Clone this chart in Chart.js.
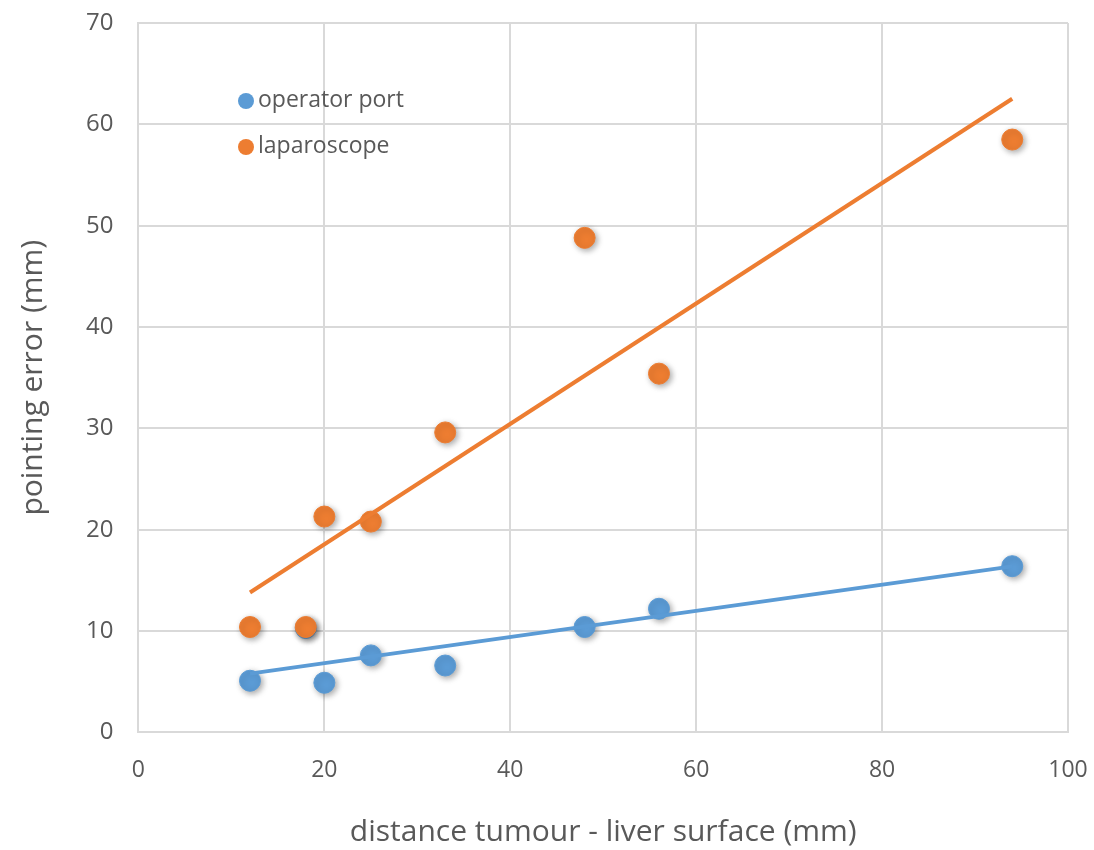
<!DOCTYPE html>
<html lang="en">
<head>
  <meta charset="UTF-8" />
  <title>Pointing error vs distance</title>
  <script src="https://cdn.jsdelivr.net/npm/chart.js"></script>
  <style>
    body { margin: 0; background: #fff; }
    #wrap { width: 1094px; height: 850px; position: relative; }
  </style>
</head>
<body>
  <div id="wrap"><canvas id="errChart"></canvas></div>
  <script>
  // distance tumour - liver surface (mm)
  const distances = [12, 18, 20, 25, 33, 48, 56, 94];
  // pointing error (mm)
  const operatorPort = [5.1, 10.3, 4.9, 7.6, 6.6, 10.4, 12.2, 16.4];
  const laparoscope = [10.4, 10.4, 21.3, 20.8, 29.6, 48.8, 35.4, 58.5];
  const seriesNames = ['operator port', 'laparoscope'];
  const blue = '#5B9BD5', orange = '#ED7D31';

  function toPoints(xs, ys) {
    return xs.map((x, i) => ({ x: x, y: ys[i] }));
  }

  // linear least-squares trendline, like Excel's
  function trend(xs, ys) {
    const n = xs.length;
    const mx = xs.reduce((a, b) => a + b, 0) / n;
    const my = ys.reduce((a, b) => a + b, 0) / n;
    let sxy = 0, sxx = 0;
    xs.forEach((x, i) => { sxy += (x - mx) * (ys[i] - my); sxx += (x - mx) * (x - mx); });
    const k = sxy / sxx, b = my - k * mx;
    const lo = Math.min(...xs), hi = Math.max(...xs);
    return [{ x: lo, y: k * lo + b }, { x: hi, y: k * hi + b }];
  }

  const shadowPlugin = {
    id: 'markerShadow',
    beforeDatasetDraw(chart, args) {
      const ctx = chart.ctx;
      ctx.save();
      if (!chart.data.datasets[args.index].isTrend) {
        ctx.shadowColor = 'rgba(0,0,0,0.35)';
        ctx.shadowBlur = 6;
        ctx.shadowOffsetX = 2;
        ctx.shadowOffsetY = 2;
      }
    },
    afterDatasetDraw(chart) {
      chart.ctx.restore();
    }
  };

  const legendPlugin = {
    id: 'innerLegend',
    afterDraw(chart) {
      const ctx = chart.ctx;
      const colors = [blue, orange];
      ctx.save();
      ctx.font = '23px "Open Sans"';
      ctx.textBaseline = 'middle';
      seriesNames.forEach((name, i) => {
        const y = 101 + i * 46;
        ctx.beginPath();
        ctx.arc(246, y, 8, 0, Math.PI * 2);
        ctx.fillStyle = colors[i];
        ctx.fill();
        ctx.fillStyle = '#595959';
        ctx.fillText(name, 258, y - 1);
      });
      ctx.restore();
    }
  };

  new Chart(document.getElementById('errChart'), {
    type: 'scatter',
    data: {
      datasets: [
        {
          label: 'operator port trend', isTrend: true,
          data: trend(distances, operatorPort),
          showLine: true, borderColor: blue, borderWidth: 4,
          pointRadius: 0, order: 0
        },
        {
          label: 'laparoscope trend', isTrend: true,
          data: trend(distances, laparoscope),
          showLine: true, borderColor: orange, borderWidth: 4,
          pointRadius: 0, order: 0
        },
        {
          label: seriesNames[1],
          data: toPoints(distances, laparoscope),
          backgroundColor: orange, borderColor: orange,
          pointRadius: 10.5, order: 1
        },
        {
          label: seriesNames[0],
          data: toPoints(distances, operatorPort),
          backgroundColor: blue, borderColor: blue,
          pointRadius: 10.5, order: 2
        }
      ]
    },
    options: {
      responsive: true,
      maintainAspectRatio: false,
      animation: false,
      layout: { padding: { top: 23, right: 26, left: 11, bottom: -4 } },
      plugins: {
        legend: { display: false },
        tooltip: { enabled: false }
      },
      scales: {
        x: {
          min: 0, max: 100,
          ticks: { stepSize: 20, color: '#595959', font: { family: 'Open Sans', size: 23 }, padding: 0 },
          grid: { color: '#d9d9d9', lineWidth: 2, drawTicks: true, tickLength: 24, tickColor: 'rgba(0,0,0,0)' },
          border: { color: '#d9d9d9', width: 2 },
          title: { display: true, text: 'distance tumour - liver surface (mm)', color: '#595959',
                   font: { family: 'Open Sans', size: 30 }, padding: { top: 30 } }
        },
        y: {
          min: 0, max: 70,
          ticks: { stepSize: 10, color: '#595959', font: { family: 'Open Sans', size: 24 }, padding: 0 },
          grid: { color: '#d9d9d9', lineWidth: 2, drawTicks: true, tickLength: 25, tickColor: 'rgba(0,0,0,0)' },
          border: { color: '#d9d9d9', width: 2 },
          title: { display: true, text: 'pointing error (mm)', color: '#595959',
                   font: { family: 'Open Sans', size: 30 }, padding: { bottom: 35 } }
        }
      }
    },
    plugins: [shadowPlugin, legendPlugin]
  });
  </script>
</body>
</html>
